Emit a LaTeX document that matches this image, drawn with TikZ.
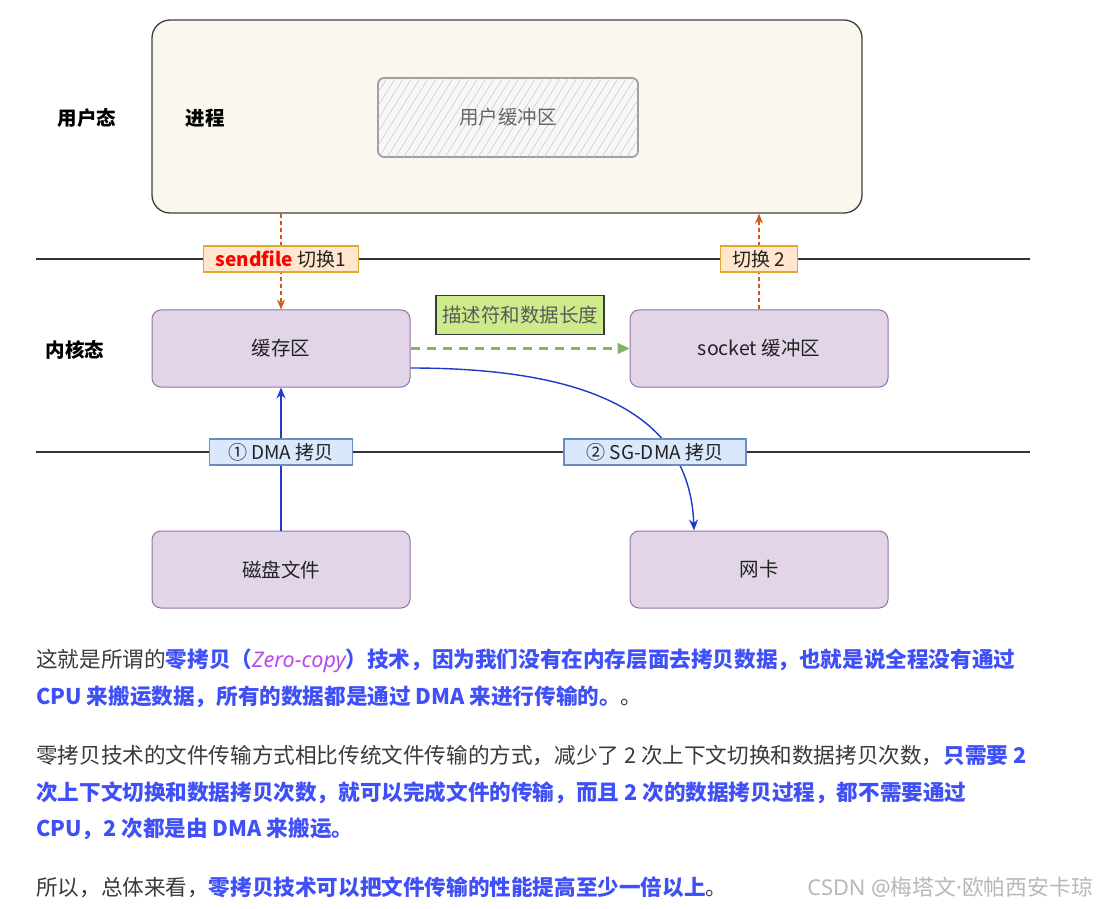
\documentclass[tikz,border=0pt]{standalone}
\usepackage{fontspec}
\setmainfont{Noto Sans CJK SC}
\newfontfamily\latinfont{Noto Sans}
\usepackage{xcolor}
\usepackage{tikz}
\usetikzlibrary{arrows.meta,positioning,patterns.meta}

\definecolor{cream}{HTML}{F9F7EE}
\definecolor{kfill}{HTML}{E1D5E7}
\definecolor{kline}{HTML}{9673A6}
\definecolor{orfill}{HTML}{FFE6CC}
\definecolor{orline}{HTML}{E0A82E}
\definecolor{blfill}{HTML}{DAE8FC}
\definecolor{blline}{HTML}{6C8EBF}
\definecolor{grfill}{HTML}{CDEB8B}
\definecolor{grline}{HTML}{36393D}
\definecolor{grarrow}{HTML}{82B366}
\definecolor{swred}{HTML}{D0561A}
\definecolor{dmablue}{HTML}{1A3CC8}
\definecolor{textdark}{HTML}{222222}
\definecolor{bodytext}{HTML}{3A3A3A}
\definecolor{strong}{HTML}{4050F8}
\definecolor{zc}{HTML}{B84BE8}

\begin{document}
\begin{tikzpicture}[
    x=1pt, y=-1pt,
    node distance=143pt and 219pt,
    kbox/.style={rectangle, rounded corners=9pt, draw=kline, fill=kfill, line width=1pt, minimum width=258pt, minimum height=77pt, align=center, text=textdark, font=\fontsize{19.5}{22}\selectfont},
    tagbox/.style={rectangle, line width=1.2pt, inner sep=3pt, minimum height=26pt, text=textdark, font=\fontsize{19}{22}\selectfont},
    orangetag/.style={tagbox, fill=orfill, draw=orline},
    bluetag/.style={tagbox, fill=blfill, draw=blline},
    greentag/.style={tagbox, fill=grfill, draw=grline, minimum width=168pt, minimum height=39pt, text=black!65, font=\fontsize{19.5}{22}\selectfont},
    statelbl/.style={text=black, font=\fontsize{19.5}{22}\selectfont\bfseries},
    layerline/.style={line width=1.3pt, draw=black!80},
    arrow/.style={-{Stealth[length=11pt,width=9pt]}, line width=1.4pt, draw=dmablue},
    dasharrow/.style={-{Triangle[length=12pt,width=11pt]}, line width=2.2pt, dash pattern=on 9pt off 7pt, draw=grarrow},
    dotarrow/.style={-{Stealth[length=10pt,width=8pt]}, line width=1.3pt, dash pattern=on 4pt off 3pt, draw=swred},
    paraline/.style={anchor=west, inner sep=0pt, text=bodytext, font=\fontsize{21.6}{25}\selectfont},
    wmark/.style={anchor=east, inner sep=0pt, text=black!28, font=\fontsize{21.8}{24}\selectfont}
]
\path[fill=white] (0,0) rectangle (1098,909);
\useasboundingbox (0,0) rectangle (1098,909);

% user space
\node[rectangle, rounded corners=18pt, draw=black!75, fill=cream, line width=1.3pt, minimum width=710pt, minimum height=193pt] (proc) at (507,116.5) {};
\node[statelbl] (user) at (87,118) {用户态};
\node[statelbl] (proclbl) at (205,118) {进程};
\node[rectangle, rounded corners=6pt, draw=gray!75, line width=1.8pt, fill=gray!6,
      postaction={pattern={Lines[angle=58,distance=7pt,line width=0.5pt]}, pattern color=gray!45},
      minimum width=260pt, minimum height=79pt, text=black!60, font=\fontsize{19.5}{22}\selectfont] (ubuf) at (508,117.5) {用户缓冲区};

% layer lines
\coordinate (u1) at (36,259);
\coordinate (u2) at (1030,259);
\coordinate (d1) at (36,452);
\coordinate (d2) at (1030,452);
\draw[layerline] (u1) -- (u2);
\draw[layerline] (d1) -- (d2);

% kernel space
\node[statelbl] (kernel) at (75,350) {内核态};
\node[kbox] at (281,348.5) (cache) {缓存区};
\node[kbox, right=of cache] (sock) {socket 缓冲区};
\node[kbox, below=of cache] (disk) {磁盘文件};
\node[kbox, below=of sock] (nic) {网卡};

% Arrows
\draw[dotarrow] (proc.south -| cache.north) -- (cache.north);
\draw[dotarrow] (sock.north) -- (sock.north |- proc.south);
\draw[arrow] (disk.north) -- (cache.south);
\draw[arrow] ([yshift=-19.5pt]cache.east) .. controls (600,368) and (690,420) .. ([xshift=-65pt]nic.north);
\draw[dasharrow] (cache.east) -- (sock.west);
\path (cache.east) -- (sock.west) node[midway, above=13pt, greentag] (desc) {描述符和数据长度};

% tags on the lines
\node[orangetag, minimum width=155pt] (sw1) at (cache.north |- u1) {\textcolor{red}{\bfseries sendfile} 切换1};
\node[orangetag, minimum width=77pt] (sw2) at (sock.north |- u1) {切换 2};
\node[bluetag, minimum width=143pt] (dma1) at (cache.south |- d1) {① DMA 拷贝};
\node[bluetag, minimum width=182pt] (dma2) at (655,452) {② SG-DMA 拷贝};

% text below
\node[paraline] (p1a) at (36,661) {这就是所谓的\textcolor{strong}{\bfseries 零拷贝（\textcolor{zc}{\latinfont\mdseries\itshape Zero-copy}）技术，因为我们没有在内存层面去拷贝数据，也就是说全程没有通过}};
\node[paraline] (p1b) at (36,697) {\textcolor{strong}{\bfseries CPU 来搬运数据，所有的数据都是通过 DMA 来进行传输的。}。};
\node[paraline] (p2a) at (36,756) {零拷贝技术的文件传输方式相比传统文件传输的方式，减少了 2 次上下文切换和数据拷贝次数，\textcolor{strong}{\bfseries 只需要 2}};
\node[paraline] (p2b) at (36,793) {\textcolor{strong}{\bfseries 次上下文切换和数据拷贝次数，就可以完成文件的传输，而且 2 次的数据拷贝过程，都不需要通过}};
\node[paraline] (p2c) at (36,829) {\textcolor{strong}{\bfseries CPU，2 次都是由 DMA 来搬运。}};
\node[paraline] (p3) at (36,887) {所以，总体来看，\textcolor{strong}{\bfseries 零拷贝技术可以把文件传输的性能提高至少一倍以上}。};
\node[wmark] (csdn) at (1093,887) {{\latinfont CSDN @}梅塔文{\latinfont ·}欧帕西安卡琼};

\end{tikzpicture}
\end{document}
